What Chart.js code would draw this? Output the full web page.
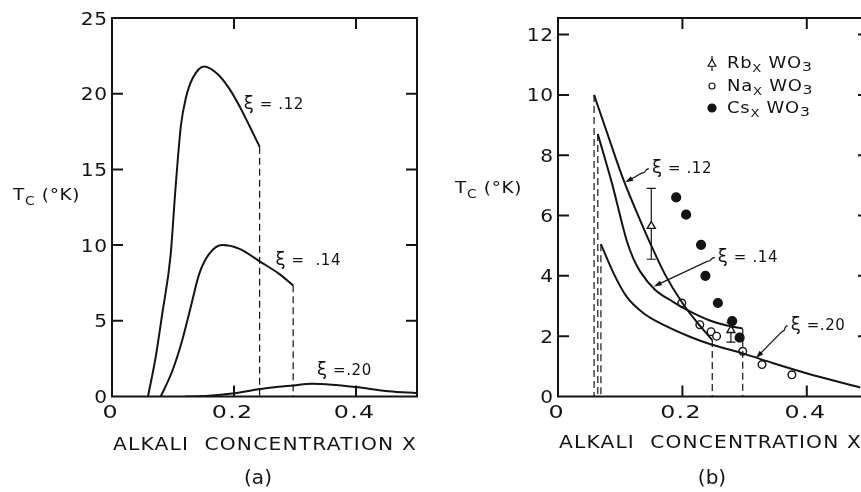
<!DOCTYPE html>
<html>
<head>
<meta charset="utf-8">
<script src="https://cdn.jsdelivr.net/npm/chart.js@4/dist/chart.umd.min.js"></script>
<style>
    html, body { margin: 0; padding: 0; background: #fff; overflow: hidden; }
    #panel-a { position: absolute; left: 0; top: 0; width: 430px; height: 492px; }
    #panel-b { position: absolute; left: 430px; top: 0; width: 445px; height: 492px; }
</style>
</head>
<body>
<div id="panel-a"><canvas id="chart-a" width="430" height="492"></canvas></div>
<div id="panel-b"><canvas id="chart-b" width="445" height="492"></canvas></div>
<script>
const FONT = '"DejaVu Sans", Verdana, sans-serif';
const INK = '#141414';

// tick values
const xTickVals = [0, 0.2, 0.4];
const aTickVals = [0, 5, 10, 15, 20, 25];
const bTickVals = [0, 2, 4, 6, 8, 10, 12];

// (a) calculated Tc vs alkali concentration, one curve per xi
const a12X = [0.059, 0.0716, 0.0825, 0.096, 0.104, 0.113, 0.121, 0.132, 0.151, 0.173, 0.192, 0.208, 0.225, 0.242];
const a12T = [0, 2.6, 5.5, 9.3, 13.7, 17.9, 19.7, 21.0, 21.8, 21.3, 20.35, 19.25, 17.9, 16.5];
const a14X = [0.080, 0.099, 0.115, 0.129, 0.143, 0.159, 0.181, 0.208, 0.244, 0.274, 0.297];
const a14T = [0, 1.7, 3.7, 5.9, 8.1, 9.4, 10.0, 9.77, 8.88, 8.1, 7.34];
const a20X = [0.12, 0.153, 0.197, 0.244, 0.298, 0.328, 0.36, 0.40, 0.454, 0.5];
const a20T = [0, 0.03, 0.2, 0.5, 0.73, 0.84, 0.78, 0.62, 0.35, 0.22];

// (b) calculated curves
const b12X = [0.058, 0.078, 0.105, 0.132, 0.15, 0.172, 0.20, 0.222, 0.248];
const b12T = [10.0, 8.8, 7.2, 5.85, 5.0, 4.05, 3.1, 2.5, 1.87];
const b14X = [0.064, 0.087, 0.110, 0.121, 0.132, 0.156, 0.185, 0.212, 0.244, 0.27, 0.297];
const b14T = [8.7, 7.05, 5.2, 4.58, 4.15, 3.54, 3.14, 2.82, 2.52, 2.36, 2.25];
const b20X = [0.069, 0.089, 0.11, 0.137, 0.174, 0.212, 0.244, 0.297, 0.345, 0.398, 0.486];
const b20T = [5.05, 4.1, 3.32, 2.77, 2.33, 1.98, 1.74, 1.43, 1.11, 0.78, 0.3];

// (b) measured points
const naX = [0.199, 0.228, 0.246, 0.255, 0.297, 0.328, 0.376];
const naT = [3.1, 2.38, 2.15, 2.0, 1.5, 1.06, 0.72];
const csX = [0.19, 0.206, 0.23, 0.237, 0.257, 0.28, 0.292];
const csT = [6.6, 6.03, 5.03, 4.0, 3.1, 2.5, 1.95];
const rbX = [0.150, 0.278];
const rbT = [5.65, 2.2];
const rbLo = [4.55, 1.8];
const rbHi = [6.9, 2.45];

function pts(xs, ts) {
    return xs.map((v, i) => ({x: v, y: ts[i]}));
}

// vertical dashed drop from a curve's point at index i to the axis
function drop(xs, ts, i) {
    if (i < 0) i = xs.length + i;
    return [{x: xs[i], y: ts[i]}, {x: xs[i], y: 0}];
}

function curve(data) {
    return {data, borderColor: INK, borderWidth: 2, pointRadius: 0, fill: false,
        cubicInterpolationMode: 'monotone'};
}

function dashed(data) {
    return {data, borderColor: INK, borderWidth: 1.2, borderDash: [7, 4], pointRadius: 0, fill: false};
}

function marks(data, style, radius, filled) {
    return {data, showLine: false, pointStyle: style, pointRadius: radius,
        pointBackgroundColor: filled ? INK : '#fff', pointBorderColor: INK, pointBorderWidth: 1.4};
}

// text pieces in a row, each with its own size and baseline shift; stretch widens the glyphs
function rich(ctx, x, y, parts, spacing, stretch) {
    const k = stretch || 1;
    let cx = 0;
    ctx.save();
    ctx.translate(x, y);
    ctx.scale(k, 1);
    ctx.letterSpacing = (spacing || 0) + 'px';
    for (const p of parts) {
        ctx.font = `${p.size}px ${FONT}`;
        ctx.fillText(p.t, cx, p.dy || 0);
        cx += ctx.measureText(p.t).width;
    }
    ctx.restore();
}

// one line of text widened to fill the given width
function spread(ctx, text, left, y, width) {
    ctx.save();
    ctx.letterSpacing = '1px';
    const w = ctx.measureText(text).width;
    ctx.translate(left, y);
    ctx.scale(width / w, 1);
    ctx.fillText(text, 0, 0);
    ctx.restore();
}

// widened label anchored by align at (x, y)
function wide(ctx, text, x, y, stretch, spacing, align) {
    ctx.save();
    ctx.letterSpacing = spacing + 'px';
    const w = (ctx.measureText(text).width - spacing) * stretch;
    const left = align === 'center' ? x - w / 2 : align === 'right' ? x - w : x;
    ctx.translate(left, y);
    ctx.scale(stretch, 1);
    ctx.textAlign = 'left';
    ctx.fillText(text, 0, 0);
    ctx.restore();
}

function squiggleArrow(ctx, sx, sy, tx, ty) {
    const len = Math.hypot(tx - sx, ty - sy);
    const dx = (tx - sx) / len, dy = (ty - sy) / len;
    const nx = -dy, ny = dx;
    ctx.lineWidth = 1.2;
    ctx.beginPath();
    ctx.moveTo(sx, sy);
    ctx.bezierCurveTo(sx + dx * 3 + nx * 3, sy + dy * 3 + ny * 3,
        sx + dx * 5 - nx * 3, sy + dy * 5 - ny * 3, sx + dx * 8, sy + dy * 8);
    ctx.lineTo(tx - dx * 6, ty - dy * 6);
    ctx.stroke();
    ctx.beginPath();
    ctx.moveTo(tx, ty);
    ctx.lineTo(tx - dx * 8 + nx * 2.6, ty - dy * 8 + ny * 2.6);
    ctx.lineTo(tx - dx * 8 - nx * 2.6, ty - dy * 8 - ny * 2.6);
    ctx.closePath();
    ctx.fill();
}

// frame with inward ticks on all four sides, tick labels, titles, arrows and legend
const decor = {
    id: 'decor',
    beforeDatasetsDraw(chart, args, o) {
        if (!o.errorBars) return;
        const {ctx, scales: {x, y}} = chart;
        ctx.save();
        ctx.strokeStyle = INK;
        ctx.lineWidth = 1.2;
        ctx.beginPath();
        rbX.forEach((v, i) => {
            const px = x.getPixelForValue(v);
            const lo = y.getPixelForValue(rbLo[i]), hi = y.getPixelForValue(rbHi[i]);
            ctx.moveTo(px, lo); ctx.lineTo(px, hi);
            ctx.moveTo(px - 4.5, lo); ctx.lineTo(px + 4.5, lo);
            ctx.moveTo(px - 4.5, hi); ctx.lineTo(px + 4.5, hi);
        });
        ctx.stroke();
        ctx.restore();
    },
    afterDraw(chart, args, o) {
        const {ctx, chartArea: {left, right, top, bottom}, scales: {x, y}} = chart;
        ctx.save();
        ctx.strokeStyle = INK;
        ctx.fillStyle = INK;

        ctx.lineWidth = 2;
        ctx.strokeRect(left, top, right - left, bottom - top);
        ctx.beginPath();
        for (const v of xTickVals) {
            if (v <= x.min || v >= x.max) continue;
            const px = x.getPixelForValue(v);
            ctx.moveTo(px, bottom); ctx.lineTo(px, bottom - 11);
            ctx.moveTo(px, top); ctx.lineTo(px, top + 11);
        }
        for (const v of o.yTicks) {
            if (v <= y.min || v >= y.max) continue;
            const py = y.getPixelForValue(v);
            ctx.moveTo(left, py); ctx.lineTo(left + 11, py);
            ctx.moveTo(right, py); ctx.lineTo(right - 11, py);
        }
        ctx.stroke();

        // tick labels
        ctx.font = `18px ${FONT}`;
        ctx.textBaseline = 'alphabetic';
        for (const v of xTickVals) {
            const txt = v === 0 ? '0' : v.toFixed(1);
            wide(ctx, txt, x.getPixelForValue(v) - 2, bottom + 21, 1.32, 1, 'center');
        }
        for (const v of o.yTicks) {
            wide(ctx, String(v), left - 5, y.getPixelForValue(v) + 6.5, 1.12, 0.5, 'right');
        }

        ctx.textAlign = 'left';
        ctx.textBaseline = 'middle';
        ctx.font = `17px ${FONT}`;
        spread(ctx, 'ALKALI  CONCENTRATION X', left + 1, o.titleY, o.titleW);

        ctx.textAlign = 'center';
        ctx.font = `20px ${FONT}`;
        ctx.fillText(o.letter, left + o.letterDx, 479);

        ctx.textAlign = 'left';
        ctx.textBaseline = 'alphabetic';
        rich(ctx, o.tcX, o.tcY, [
            {t: 'T', size: 16},
            {t: 'C', size: 12, dy: 5},
            {t: ' (°K)', size: 16}
        ], 0.6, 1.15);

        for (const n of o.notes) {
            const ax = x.getPixelForValue(n.x), ay = y.getPixelForValue(n.t);
            rich(ctx, ax, ay, [
                {t: 'ξ', size: 18},
                {t: n.text, size: 15}
            ], 0.6);
            if (n.tipX !== undefined) {
                squiggleArrow(ctx, ax - 3, ay - 4, x.getPixelForValue(n.tipX), y.getPixelForValue(n.tipT));
            }
        }

        if (o.legend) {
            const sx = o.legend.x;
            const rows = o.legend.rows;
            // Rb: triangle with error bar
            ctx.lineWidth = 1.2;
            ctx.beginPath();
            ctx.moveTo(sx, rows[0] - 7); ctx.lineTo(sx, rows[0] + 8);
            ctx.stroke();
            ctx.fillStyle = '#fff';
            Chart.helpers.drawPoint(ctx, {pointStyle: 'triangle', radius: 4.5, borderWidth: 1.2}, sx, rows[0] + 1);
            Chart.helpers.drawPoint(ctx, {pointStyle: 'circle', radius: 3, borderWidth: 1.2}, sx, rows[1]);
            ctx.fillStyle = INK;
            Chart.helpers.drawPoint(ctx, {pointStyle: 'circle', radius: 4, borderWidth: 1}, sx, rows[2]);

            const names = ['Rb', 'Na', 'Cs'];
            names.forEach((nm, i) => {
                rich(ctx, sx + 15, rows[i] + 5, [
                    {t: nm, size: 15},
                    {t: 'X', size: 11, dy: 4},
                    {t: ' WO', size: 15},
                    {t: '3', size: 13, dy: 3}
                ], 0.6, 1.2);
            });
        }
        ctx.restore();
    }
};

function scaleSet(yMax, yTicks, yWidth) {
    return {
        x: {
            type: 'linear', min: 0, max: 0.5,
            grid: {display: false, drawTicks: false}, border: {display: false},
            afterBuildTicks: s => { s.ticks = xTickVals.map(v => ({value: v})); },
            afterFit: s => { s.height = 95.5; },
            ticks: {display: false}
        },
        y: {
            type: 'linear', min: 0, max: yMax,
            grid: {display: false, drawTicks: false}, border: {display: false},
            afterBuildTicks: s => { s.ticks = yTicks.map(v => ({value: v})); },
            afterFit: s => { s.width = yWidth; },
            ticks: {display: false}
        }
    };
}

function baseOptions(yMax, yTicks, yWidth, padRight, decorOpts) {
    return {
        responsive: false,
        devicePixelRatio: 1,
        animation: false,
        events: [],
        layout: {padding: {left: 0, top: 18, right: padRight, bottom: 0}},
        scales: scaleSet(yMax, yTicks, yWidth),
        plugins: {legend: {display: false}, tooltip: {enabled: false}, decor: decorOpts}
    };
}

new Chart(document.getElementById('chart-a'), {
    type: 'line',
    data: {
        datasets: [
            curve(pts(a12X, a12T)),
            curve(pts(a14X, a14T)),
            curve(pts(a20X, a20T)),
            dashed(drop(a12X, a12T, -1)),
            dashed(drop(a14X, a14T, -1))
        ]
    },
    options: baseOptions(25, aTickVals, 112, 13, {
        yTicks: aTickVals,
        titleY: 446, titleW: 304,
        letter: '(a)', letterDx: 146,
        tcX: 13, tcY: 200,
        notes: [
            {x: 0.216, t: 18.98, text: ' = .12'},
            {x: 0.268, t: 8.66, text: ' =  .14'},
            {x: 0.336, t: 1.39, text: ' =.20'}
        ]
    }),
    plugins: [decor]
});

new Chart(document.getElementById('chart-b'), {
    type: 'line',
    data: {
        datasets: [
            curve(pts(b12X, b12T)),
            curve(pts(b14X, b14T)),
            curve(pts(b20X, b20T)),
            dashed(drop(b12X, b12T, 0)),
            dashed(drop(b14X, b14T, 0)),
            dashed(drop(b20X, b20T, 0)),
            dashed(drop(b12X, b12T, -1)),
            dashed(drop(b14X, b14T, -1)),
            marks(pts(naX, naT), 'circle', 3.8, false),
            marks(pts(csX, csT), 'circle', 4.4, true),
            marks(pts(rbX, rbT), 'triangle', 4.6, false)
        ]
    },
    options: baseOptions(12.55, bTickVals, 128, 4.5, {
        yTicks: bTickVals,
        titleY: 444, titleW: 303,
        letter: '(b)', letterDx: 154,
        tcX: 25, tcY: 193,
        errorBars: true,
        notes: [
            {x: 0.151, t: 7.41, text: ' = .12', tipX: 0.108, tipT: 7.1},
            {x: 0.257, t: 4.47, text: ' = .14', tipX: 0.154, tipT: 3.65},
            {x: 0.374, t: 2.21, text: ' =.20', tipX: 0.318, tipT: 1.27}
        ],
        legend: {x: 282, rows: [63, 86, 108]}
    }),
    plugins: [decor]
});
</script>
</body>
</html>
